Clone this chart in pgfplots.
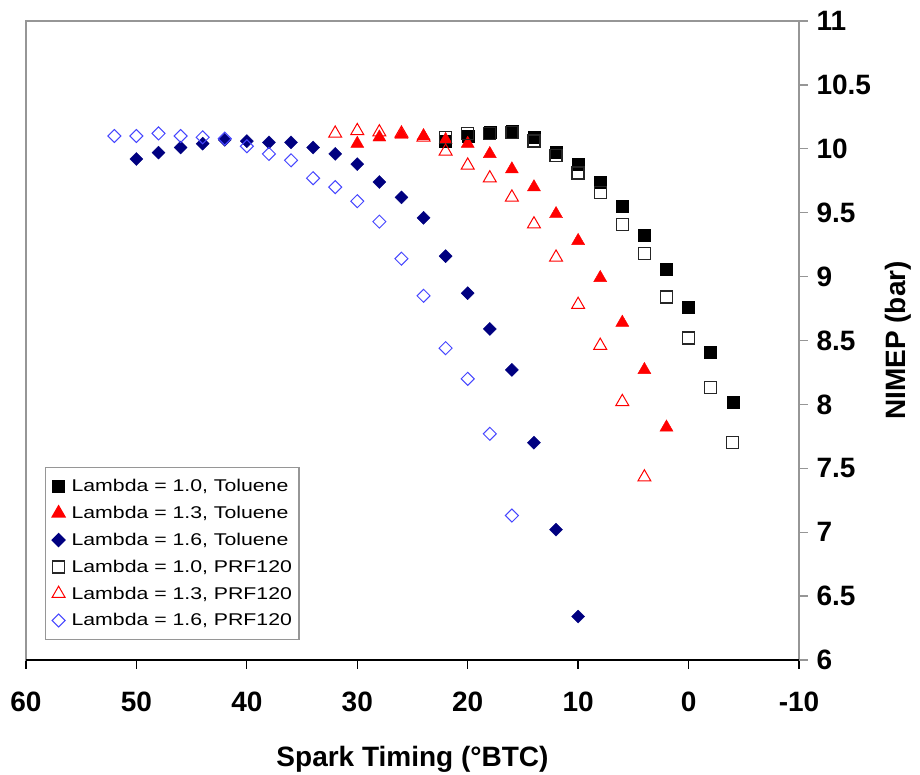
\documentclass[border=0pt]{standalone}
\usepackage{fontspec}
\setmainfont{Liberation Sans}
\newfontfamily\legfont[FakeStretch=1.25]{Liberation Sans}
\usepackage{pgfplots}
\usepackage{pgfplotstable}
\pgfplotsset{compat=1.18}

\definecolor{navyb}{RGB}{0,0,128}
\definecolor{lblue}{RGB}{70,70,255}
\definecolor{framegray}{RGB}{150,150,150}

\pgfplotstableread{
x y
22 10.06
20 10.10
18 10.13
16 10.14
14 10.09
12 9.97
10 9.88
8 9.74
6 9.55
4 9.32
2 9.06
0 8.76
-2 8.41
-4 8.02
}\tolten

\pgfplotstableread{
x y
30 10.04
28 10.09
26 10.11
24 10.10
22 10.07
20 10.04
18 9.96
16 9.84
14 9.70
12 9.49
10 9.28
8 8.99
6 8.64
4 8.27
2 7.82
}\tolthirteen

\pgfplotstableread{
x y
50 9.92
48 9.97
46 10.01
44 10.04
42 10.07
40 10.06
38 10.05
36 10.05
34 10.01
32 9.96
30 9.88
28 9.74
26 9.62
24 9.46
22 9.16
20 8.87
18 8.59
16 8.27
14 7.70
12 7.02
10 6.34
}\tolsixteen

\pgfplotstableread{
x y
22 10.09
20 10.12
18 10.12
16 10.13
14 10.06
12 9.95
10 9.81
8 9.66
6 9.41
4 9.18
2 8.84
0 8.52
-2 8.13
-4 7.70
}\prften

\pgfplotstableread{
x y
32 10.12
30 10.14
28 10.13
26 10.12
24 10.09
22 9.98
20 9.87
18 9.77
16 9.62
14 9.41
12 9.15
10 8.78
8 8.46
6 8.02
4 7.43
}\prfthirteen

\pgfplotstableread{
x y
52 10.10
50 10.10
48 10.12
46 10.10
44 10.09
42 10.08
40 10.02
38 9.96
36 9.91
34 9.77
32 9.70
30 9.59
28 9.43
26 9.14
24 8.85
22 8.44
20 8.20
18 7.77
16 7.13
}\prfsixteen

\begin{document}
\begin{tikzpicture}[x=1pt,y=1pt]
\useasboundingbox (0,0) rectangle (920,775);
\begin{axis}[
  at={(26pt,115pt)}, anchor=south west,
  scale only axis, width=773pt, height=639pt,
  x dir=reverse, xmin=-10, xmax=60, ymin=6, ymax=11,
  xtick={-10,0,10,20,30,40,50,60},
  ytick={6,6.5,7,7.5,8,8.5,9,9.5,10,10.5,11},
  axis line style={framegray, line width=1.5pt},
  xtick pos=bottom, ytick pos=right, yticklabel pos=right,
  tick align=outside, major tick length=9pt,
  x tick style={black, line width=1.3pt},
  y tick style={framegray, line width=1.3pt},
  /pgf/number format/assume math mode=true,
  tick label style={font=\fontsize{28}{32}\selectfont\bfseries},
  xticklabel style={yshift=-19pt},
  yticklabel style={xshift=5pt},
  xlabel={Spark Timing (°BTC)},
  ylabel={NIMEP (bar)},
  label style={font=\fontsize{28}{32}\selectfont\bfseries},
  xlabel style={at={(axis description cs:0.5,-0.155)}, anchor=center},
  ylabel style={at={(axis description cs:1.128,0.5)}, anchor=center, rotate=0},
  legend style={at={(axis description cs:0.0246,0.0313)}, anchor=south west,
    draw=framegray, line width=1.2pt, font=\fontsize{17}{20}\selectfont\legfont,
    row sep=9pt, inner xsep=5pt, inner ysep=10pt,
    nodes={inner ysep=2pt, inner xsep=2pt}},
  legend image code/.code={%
    \path[draw=none, fill=none] (0pt,-1pt) rectangle (19pt,1pt);
    \draw[mark repeat=2,mark phase=2,#1] plot coordinates {(0pt,0pt) (8pt,0pt) (16pt,0pt)};},
  legend cell align=left,
  clip=false,
]
\addplot[only marks, mark=square*, mark size=6pt, black] table {\tolten};
\addlegendentry{Lambda = 1.0, Toluene}
\addplot[only marks, mark=triangle*, mark size=7.5pt, red] table {\tolthirteen};
\addlegendentry{Lambda = 1.3, Toluene}
\addplot[only marks, mark=square*, mark size=4.6pt, mark options={rotate=45}, navyb] table {\tolsixteen};
\addlegendentry{Lambda = 1.6, Toluene}
\addplot[only marks, mark=square, mark size=6pt, black!85, line width=1.3pt] table {\prften};
\addlegendentry{Lambda = 1.0, PRF120}
\addplot[only marks, mark=triangle, mark size=7.5pt, red, line width=1pt] table {\prfthirteen};
\addlegendentry{Lambda = 1.3, PRF120}
\addplot[only marks, mark=square, mark size=4.6pt, mark options={rotate=45}, lblue, line width=1pt] table {\prfsixteen};
\addlegendentry{Lambda = 1.6, PRF120}
\draw[black, line width=1.5pt] (rel axis cs:0,0) -- (rel axis cs:1,0);
\end{axis}
\end{tikzpicture}
\end{document}
